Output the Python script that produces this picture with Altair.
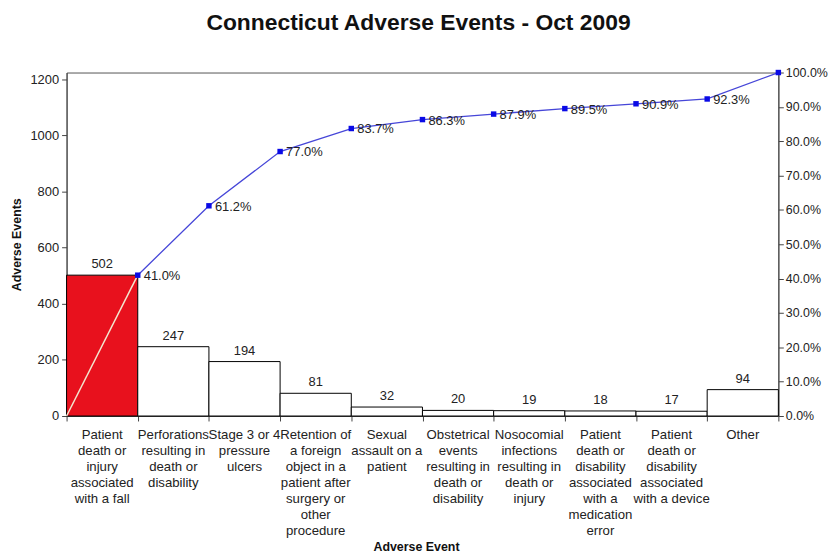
import altair as alt
import pandas as pd

categories = [
    "Patient|death or|injury|associated|with a fall",
    "Perforations|resulting in|death or|disability",
    "Stage 3 or 4|pressure|ulcers",
    "Retention of|a foreign|object in a|patient after|surgery or|other|procedure",
    "Sexual|assault on a|patient",
    "Obstetrical|events|resulting in|death or|disability",
    "Nosocomial|infections|resulting in|death or|injury",
    "Patient|death or|disability|associated|with a|medication|error",
    "Patient|death or|disability|associated|with a device",
    "Other",
]
counts = [502, 247, 194, 81, 32, 20, 19, 18, 17, 94]
cum_pct = [41.0, 61.2, 77.0, 83.7, 86.3, 87.9, 89.5, 90.9, 92.3, 100.0]
edges = list(range(0, 11))
total = sum(counts)

FONT = "Liberation Sans"

bars_df = pd.DataFrame({
    "cat": categories,
    "count": counts,
    "first": [i == 0 for i in range(len(categories))],
})
line_df = pd.DataFrame({
    "pos": edges,
    "pct": [0.0] + [v / 100 for v in cum_pct],
    "lab": [""] + [f"{v:.1f}%" for v in cum_pct],
})

xband = alt.X(
    "cat:N", sort=None,
    scale=alt.Scale(paddingInner=0, paddingOuter=0),
    axis=alt.Axis(
        labelExpr="split(datum.label, '|')", labelAngle=0, ticks=False, domain=False,
        labelPadding=12, labelLineHeight=16, labelFontSize=13.3, labelLimit=0,
        labelOverlap=False, labelBaseline="top", labelColor="#222",
        title="Adverse Event", titleFontWeight="bold", titleFontSize=12.5,
        titleX=352, titleY=131, titleBaseline="middle", titleColor="#111",
    ),
)
yleft = alt.Y(
    "count:Q",
    scale=alt.Scale(domain=[0, total], nice=False),
    axis=alt.Axis(
        values=[0, 200, 400, 600, 800, 1000, 1200], format="d", grid=False, orient="left",
        tickSize=5, labelFontSize=13, labelColor="#222", labelPadding=3,
        title="Adverse Events", titleFontWeight="bold", titleFontSize=12.5,
        titlePadding=6, titleColor="#111", domainColor="#444", tickColor="#444",
    ),
)

base_l = alt.Chart(bars_df).encode(x=xband, y=yleft)
bars = base_l.mark_bar(stroke="black", strokeWidth=1).encode(
    color=alt.condition("datum.first", alt.value("#e8111d"), alt.value("white")),
)
bar_text = base_l.mark_text(dy=-11, fontSize=13, font=FONT, color="#222").encode(text="count:Q")

xq = alt.X(
    "pos:Q",
    scale=alt.Scale(domain=[0, 10], nice=False, zero=False),
    axis=alt.Axis(values=edges, labels=False, orient="bottom", tickSize=5, grid=False,
                  title=None, domainColor="#444", tickColor="#444"),
)
yright = alt.Y(
    "pct:Q",
    scale=alt.Scale(domain=[0, 1], nice=False),
    axis=alt.Axis(
        values=[i / 10 for i in range(11)], format=".1%", orient="right", grid=False,
        tickSize=5, labelFontSize=12.5, labelColor="#222", labelPadding=2,
        labelOverlap=False, title=None, domainColor="#444", tickColor="#444",
    ),
)

base_r = alt.Chart(line_df).encode(x=xq, y=yright)
seg1 = base_r.transform_filter("datum.pos <= 1").mark_line(color="#f3e7cf", strokeWidth=1.5)
seg2 = base_r.transform_filter("datum.pos >= 1").mark_line(color="#4646d8", strokeWidth=1.3)
pts = base_r.transform_filter("datum.pos > 0").mark_square(color="#0a0ae6", size=30, opacity=1)
# the last point's label coincides with the 100.0% axis label, as in the original
pct_text = base_r.transform_filter("datum.pos > 0 && datum.pos < 10").mark_text(
    align="left", baseline="middle", dx=6, dy=1, fontSize=13, font=FONT, color="#222"
).encode(text="lab:N")

left = alt.layer(bars, bar_text)
right = alt.layer(seg1, seg2, pts, pct_text)

chart = alt.layer(left, right).resolve_scale(x="independent", y="independent").properties(
    width=717, height=346,
    autosize=alt.AutoSizeParams(type="none"),
    padding={"left": 59, "top": 63, "right": 50, "bottom": 138},
    title=alt.TitleParams(
        "Connecticut Adverse Events - Oct 2009", fontSize=23, font=FONT,
        fontWeight="bold", anchor="middle", dx=-4, offset=32, color="#111",
    ),
).configure(font=FONT).configure_view(stroke="#555", strokeWidth=1).configure_axis(
    labelFont=FONT, titleFont=FONT
)

chart.save("out.html", embed_options={"renderer": "svg", "actions": False})
